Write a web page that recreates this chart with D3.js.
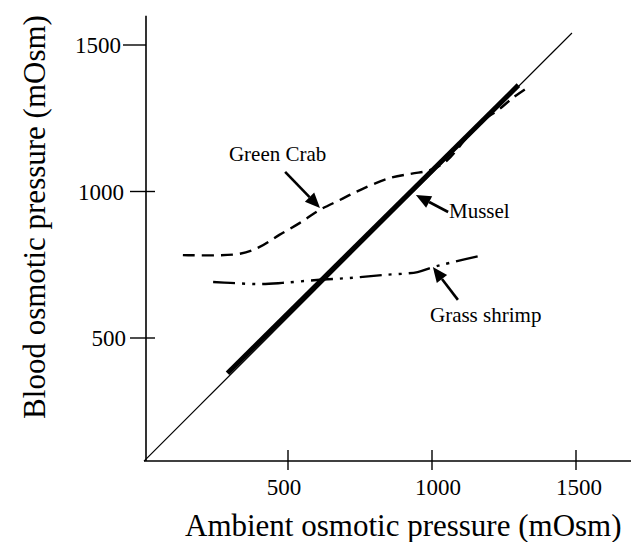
<!DOCTYPE html>
<html>
<head>
<meta charset="utf-8">
<script src="https://cdn.jsdelivr.net/npm/d3@7"></script>
<style>
  html, body { margin: 0; padding: 0; background: #fff; }
  svg { display: block; }
  text { font-family: "Liberation Serif", "Times New Roman", serif; fill: #000; }
</style>
</head>
<body>
<svg id="chart" width="631" height="542"></svg>
<script>
// ---- data (mOsm) ----
const xTicks = [500, 1000, 1500];
const yTicks = [500, 1000, 1500];

const isoX = [0, 1486];
const isoY = [80, 1541];

const musselX = [290, 1300];
const musselY = [380, 1363];

const crabX = [135, 330, 400, 470, 540, 610, 680, 750, 850, 930, 990, 1050, 1120, 1175, 1230, 1280, 1325];
const crabY = [783, 787, 810, 852, 892, 937, 971, 1005, 1045, 1061, 1072, 1104, 1183, 1241, 1278, 1319, 1350];

const shrimpX = [240, 300, 400, 480, 600, 715, 830, 950, 1003, 1060, 1177];
const shrimpY = [691, 688, 684, 688, 698, 705, 715, 725, 742, 756, 783];

const labels = ["Green Crab", "Mussel", "Grass shrimp"];
// label anchor (data coords) and arrow tail -> tip (data coords)
const labelX = [295, 1059, 993];
const labelY = [1104, 910, 555];
const arrowTailX = [490, 1056, 1090];
const arrowTailY = [1067, 930, 630];
const arrowTipX = [611, 944, 1003];
const arrowTipY = [944, 988, 742];

const xTitle = "Ambient osmotic pressure (mOsm)";
const yTitle = "Blood osmotic pressure (mOsm)";

// ---- scales ----
const x = d3.scaleLinear().domain([0, 1500]).range([144, 576]);
const y = d3.scaleLinear().domain([500, 1500]).range([338, 45]);
const xMin = 0, xMax = x.invert(631);
const yMin = 80, yMax = 1600;

const svg = d3.select("#chart");

// ---- axes ----
const axisG = svg.append("g");
axisG.append("line")
  .attr("x1", x(xMin)).attr("x2", x(xMax))
  .attr("y1", y(yMin)).attr("y2", y(yMin))
  .attr("stroke", "#000").attr("stroke-width", 1.6);
axisG.append("line")
  .attr("x1", x(xMin) + 2).attr("x2", x(xMin) + 2)
  .attr("y1", y(yMin)).attr("y2", y(yMax))
  .attr("stroke", "#000").attr("stroke-width", 1.6);

// x ticks
axisG.selectAll(".xt").data(xTicks).enter().append("line")
  .attr("x1", d => x(d)).attr("x2", d => x(d))
  .attr("y1", y(yMin) - 11).attr("y2", y(yMin) + 9)
  .attr("stroke", "#000").attr("stroke-width", 1.4);
const xLabOff = [-4, 6, 3];
axisG.selectAll(".xl").data(xTicks).enter().append("text")
  .attr("x", (d, i) => x(d) + xLabOff[i]).attr("y", 495)
  .attr("text-anchor", "middle").attr("font-size", 23)
  .text(d => d);

// y ticks
axisG.selectAll(".yt").data(yTicks).enter().append("line")
  .attr("x1", (d, i) => x(xMin) + 2 - (i === 2 ? 23 : 16))
  .attr("x2", (d, i) => x(xMin) + 2 + (i === 2 ? 0 : 9))
  .attr("y1", d => y(d)).attr("y2", d => y(d))
  .attr("stroke", "#000").attr("stroke-width", 1.4);
const yLabRight = [126, 124, 121];
axisG.selectAll(".yl").data(yTicks).enter().append("text")
  .attr("x", (d, i) => yLabRight[i]).attr("y", d => y(d) + 8)
  .attr("text-anchor", "end").attr("font-size", 23)
  .text(d => d);

// titles
svg.append("text").attr("x", 185).attr("y", 536)
  .attr("font-size", 31).text(xTitle);
svg.append("text").attr("transform", "translate(45,217) rotate(-90)")
  .attr("text-anchor", "middle").attr("font-size", 31).text(yTitle);

// ---- lines ----
const line = d3.line().x(d => x(d[0])).y(d => y(d[1]));
const smooth = d3.line().x(d => x(d[0])).y(d => y(d[1])).curve(d3.curveCatmullRom.alpha(0.5));

svg.append("path").datum(d3.zip(isoX, isoY)).attr("d", line)
  .attr("fill", "none").attr("stroke", "#000").attr("stroke-width", 1.2);

svg.append("path").datum(d3.zip(musselX, musselY)).attr("d", line)
  .attr("fill", "none").attr("stroke", "#000").attr("stroke-width", 5);

svg.append("path").datum(d3.zip(crabX, crabY)).attr("d", smooth)
  .attr("fill", "none").attr("stroke", "#000").attr("stroke-width", 2.4)
  .attr("stroke-dasharray", "12,7");

svg.append("path").datum(d3.zip(shrimpX, shrimpY)).attr("d", smooth)
  .attr("fill", "none").attr("stroke", "#000").attr("stroke-width", 2.4)
  .attr("stroke-dasharray", "22,7,3,7,3,7");

// ---- annotations ----
labels.forEach((t, i) => {
  svg.append("text").attr("x", x(labelX[i])).attr("y", y(labelY[i]))
    .attr("font-size", 21).text(t);
  const x0 = x(arrowTailX[i]), y0 = y(arrowTailY[i]);
  const x1 = x(arrowTipX[i]), y1 = y(arrowTipY[i]);
  const ang = Math.atan2(y1 - y0, x1 - x0);
  const L = 15, W = 6.5;
  const bx = x1 - L * Math.cos(ang), by = y1 - L * Math.sin(ang);
  svg.append("line").attr("x1", x0).attr("y1", y0).attr("x2", bx).attr("y2", by)
    .attr("stroke", "#000").attr("stroke-width", 2.6);
  const px = -Math.sin(ang), py = Math.cos(ang);
  svg.append("path")
    .attr("d", `M${x1},${y1}L${bx + W * px},${by + W * py}L${bx - W * px},${by - W * py}Z`)
    .attr("fill", "#000");
});
</script>
</body>
</html>
